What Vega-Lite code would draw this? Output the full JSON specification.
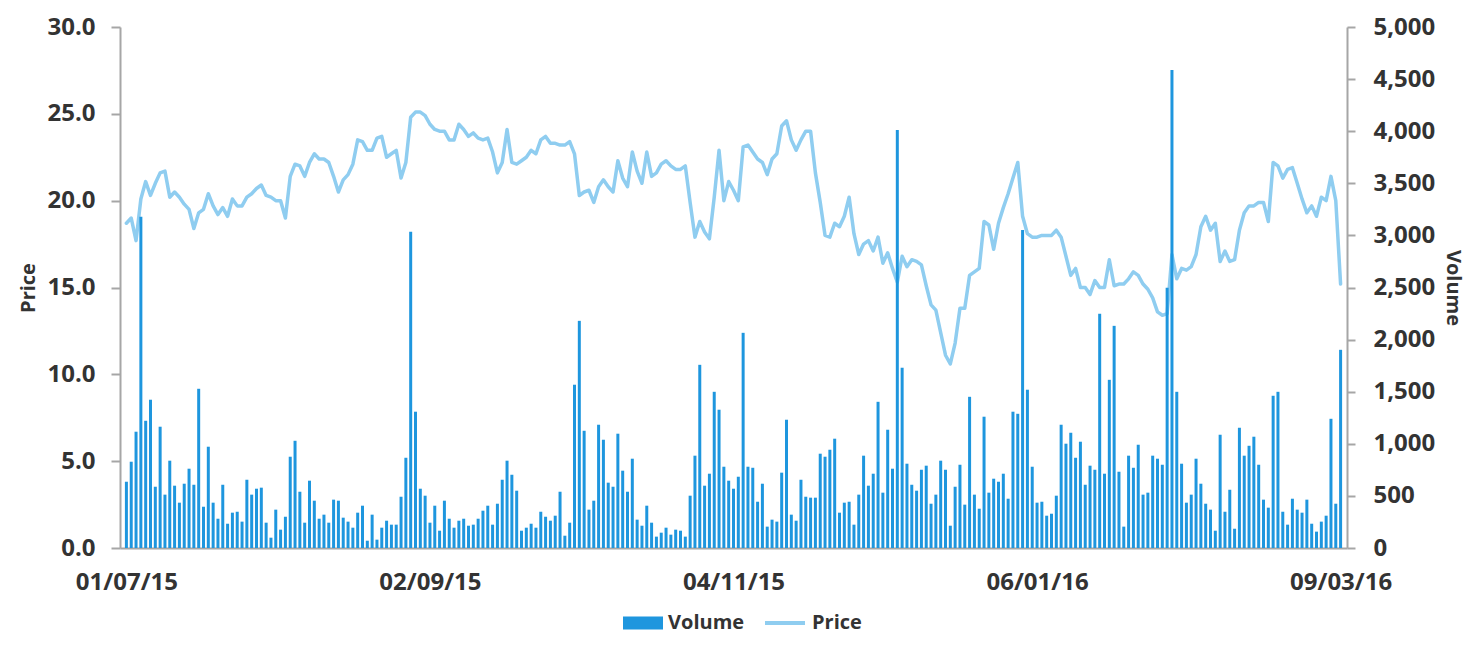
{
 "$schema": "https://vega.github.io/schema/vega-lite/v6.json",
 "width": 1227, "height": 521,
 "autosize": {"type": "none"},
 "padding": {"left": 120, "top": 27, "right": 130, "bottom": 107},
 "background": "white",
 "config": {
  "view": {"stroke": null},
  "font": "Open Sans",
  "axis": {"grid": false, "labelFont": "Open Sans", "labelFontWeight": "bold", "labelColor": "#333333", "labelFontSize": 24, "domainColor": "#a6a6a6", "domainWidth": 2, "tickColor": "#a6a6a6", "tickWidth": 2, "titleFont": "Open Sans", "titleFontWeight": "bold", "titleColor": "#333333", "titleFontSize": 20},
  "legend": {"labelFontSize": 20, "labelFontWeight": "bold", "labelColor": "#333333", "labelFont": "Open Sans", "labelOffset": 5}
 },
 "data": {"values": [
{"d":"2015/07/01","p":18.7,"v":636},{"d":"2015/07/02","p":19.0,"v":828},{"d":"2015/07/03","p":17.7,"v":1116},{"d":"2015/07/04","p":20.1,"v":3178},{"d":"2015/07/05","p":21.1,"v":1221},{"d":"2015/07/06","p":20.3,"v":1423},{"d":"2015/07/07","p":21.0,"v":588},{"d":"2015/07/08","p":21.6,"v":1164},{"d":"2015/07/09","p":21.7,"v":512},{"d":"2015/07/10","p":20.2,"v":838},
{"d":"2015/07/11","p":20.5,"v":598},{"d":"2015/07/12","p":20.2,"v":435},{"d":"2015/07/13","p":19.8,"v":617},{"d":"2015/07/14","p":19.5,"v":761},{"d":"2015/07/15","p":18.4,"v":607},{"d":"2015/07/16","p":19.3,"v":1528},{"d":"2015/07/17","p":19.5,"v":396},{"d":"2015/07/18","p":20.4,"v":972},{"d":"2015/07/19","p":19.7,"v":435},{"d":"2015/07/20","p":19.2,"v":281},
{"d":"2015/07/21","p":19.6,"v":607},{"d":"2015/07/22","p":19.1,"v":233},{"d":"2015/07/23","p":20.1,"v":339},{"d":"2015/07/24","p":19.7,"v":348},{"d":"2015/07/25","p":19.7,"v":253},{"d":"2015/07/26","p":20.2,"v":655},{"d":"2015/07/27","p":20.4,"v":512},{"d":"2015/07/28","p":20.7,"v":569},{"d":"2015/07/29","p":20.9,"v":579},{"d":"2015/07/30","p":20.3,"v":243},
{"d":"2015/07/31","p":20.2,"v":99},
{"d":"2015/08/01","p":20.0,"v":368},{"d":"2015/08/02","p":20.0,"v":176},{"d":"2015/08/03","p":19.0,"v":300},{"d":"2015/08/04","p":21.4,"v":876},{"d":"2015/08/05","p":22.1,"v":1029},{"d":"2015/08/06","p":22.0,"v":540},{"d":"2015/08/07","p":21.4,"v":243},{"d":"2015/08/08","p":22.2,"v":646},{"d":"2015/08/09","p":22.7,"v":454},{"d":"2015/08/10","p":22.4,"v":281},
{"d":"2015/08/11","p":22.4,"v":320},{"d":"2015/08/12","p":22.2,"v":243},{"d":"2015/08/13","p":21.4,"v":464},{"d":"2015/08/14","p":20.5,"v":454},{"d":"2015/08/15","p":21.2,"v":291},{"d":"2015/08/16","p":21.5,"v":253},{"d":"2015/08/17","p":22.1,"v":195},{"d":"2015/08/18","p":23.5,"v":339},{"d":"2015/08/19","p":23.4,"v":406},{"d":"2015/08/20","p":22.9,"v":70},
{"d":"2015/08/21","p":22.9,"v":320},{"d":"2015/08/22","p":23.6,"v":80},{"d":"2015/08/23","p":23.7,"v":195},{"d":"2015/08/24","p":22.5,"v":262},{"d":"2015/08/25","p":22.7,"v":224},{"d":"2015/08/26","p":22.9,"v":224},{"d":"2015/08/27","p":21.3,"v":492},{"d":"2015/08/28","p":22.2,"v":866},{"d":"2015/08/29","p":24.8,"v":3034},{"d":"2015/08/30","p":25.1,"v":1308},
{"d":"2015/08/31","p":25.1,"v":569},
{"d":"2015/09/01","p":24.9,"v":502},{"d":"2015/09/02","p":24.4,"v":243},{"d":"2015/09/03","p":24.1,"v":406},{"d":"2015/09/04","p":24.0,"v":166},{"d":"2015/09/05","p":24.0,"v":454},{"d":"2015/09/06","p":23.5,"v":281},{"d":"2015/09/07","p":23.5,"v":195},{"d":"2015/09/08","p":24.4,"v":262},{"d":"2015/09/09","p":24.1,"v":281},{"d":"2015/09/10","p":23.7,"v":214},
{"d":"2015/09/11","p":23.9,"v":224},{"d":"2015/09/12","p":23.6,"v":281},{"d":"2015/09/13","p":23.5,"v":358},{"d":"2015/09/14","p":23.6,"v":406},{"d":"2015/09/15","p":22.8,"v":224},{"d":"2015/09/16","p":21.6,"v":425},{"d":"2015/09/17","p":22.2,"v":655},{"d":"2015/09/18","p":24.1,"v":838},{"d":"2015/09/19","p":22.2,"v":703},{"d":"2015/09/20","p":22.1,"v":550},
{"d":"2015/09/21","p":22.3,"v":166},{"d":"2015/09/22","p":22.5,"v":195},{"d":"2015/09/23","p":22.9,"v":233},{"d":"2015/09/24","p":22.7,"v":195},{"d":"2015/09/25","p":23.5,"v":348},{"d":"2015/09/26","p":23.7,"v":300},{"d":"2015/09/27","p":23.3,"v":262},{"d":"2015/09/28","p":23.3,"v":310},{"d":"2015/09/29","p":23.2,"v":540},{"d":"2015/09/30","p":23.2,"v":118},
{"d":"2015/10/01","p":23.4,"v":243},{"d":"2015/10/02","p":22.7,"v":1567},{"d":"2015/10/03","p":20.3,"v":2180},{"d":"2015/10/04","p":20.5,"v":1125},{"d":"2015/10/05","p":20.6,"v":368},{"d":"2015/10/06","p":19.9,"v":454},{"d":"2015/10/07","p":20.8,"v":1183},{"d":"2015/10/08","p":21.2,"v":1039},{"d":"2015/10/09","p":20.8,"v":627},{"d":"2015/10/10","p":20.5,"v":588},
{"d":"2015/10/11","p":22.3,"v":1097},{"d":"2015/10/12","p":21.3,"v":742},{"d":"2015/10/13","p":20.8,"v":540},{"d":"2015/10/14","p":22.8,"v":857},{"d":"2015/10/15","p":21.7,"v":272},{"d":"2015/10/16","p":21.0,"v":214},{"d":"2015/10/17","p":22.8,"v":406},{"d":"2015/10/18","p":21.4,"v":243},{"d":"2015/10/19","p":21.6,"v":109},{"d":"2015/10/20","p":22.1,"v":147},
{"d":"2015/10/21","p":22.3,"v":195},{"d":"2015/10/22","p":22.0,"v":128},{"d":"2015/10/23","p":21.8,"v":176},{"d":"2015/10/24","p":21.8,"v":166},{"d":"2015/10/25","p":22.0,"v":109},{"d":"2015/10/26","p":19.9,"v":502},{"d":"2015/10/27","p":17.9,"v":886},{"d":"2015/10/28","p":18.8,"v":1758},{"d":"2015/10/29","p":18.2,"v":598},{"d":"2015/10/30","p":17.8,"v":713},
{"d":"2015/10/31","p":20.2,"v":1499},
{"d":"2015/11/01","p":22.9,"v":1327},{"d":"2015/11/02","p":20.0,"v":780},{"d":"2015/11/03","p":21.1,"v":646},{"d":"2015/11/04","p":20.6,"v":569},{"d":"2015/11/05","p":20.0,"v":684},{"d":"2015/11/06","p":23.1,"v":2065},{"d":"2015/11/07","p":23.2,"v":780},{"d":"2015/11/08","p":22.8,"v":770},{"d":"2015/11/09","p":22.4,"v":444},{"d":"2015/11/10","p":22.2,"v":617},
{"d":"2015/11/11","p":21.5,"v":205},{"d":"2015/11/12","p":22.4,"v":272},{"d":"2015/11/13","p":22.7,"v":253},{"d":"2015/11/14","p":24.3,"v":723},{"d":"2015/11/15","p":24.6,"v":1231},{"d":"2015/11/16","p":23.5,"v":320},{"d":"2015/11/17","p":22.9,"v":262},{"d":"2015/11/18","p":23.5,"v":655},{"d":"2015/11/19","p":24.0,"v":492},{"d":"2015/11/20","p":24.0,"v":483},
{"d":"2015/11/21","p":21.6,"v":483},{"d":"2015/11/22","p":19.9,"v":905},{"d":"2015/11/23","p":18.0,"v":876},{"d":"2015/11/24","p":17.9,"v":943},{"d":"2015/11/25","p":18.7,"v":1049},{"d":"2015/11/26","p":18.5,"v":339},{"d":"2015/11/27","p":19.1,"v":435},{"d":"2015/11/28","p":20.2,"v":444},{"d":"2015/11/29","p":18.1,"v":224},{"d":"2015/11/30","p":16.9,"v":512},
{"d":"2015/12/01","p":17.5,"v":886},{"d":"2015/12/02","p":17.7,"v":598},{"d":"2015/12/03","p":17.1,"v":713},{"d":"2015/12/04","p":17.9,"v":1403},{"d":"2015/12/05","p":16.4,"v":531},{"d":"2015/12/06","p":17.0,"v":1135},{"d":"2015/12/07","p":16.1,"v":761},{"d":"2015/12/08","p":15.3,"v":4012},{"d":"2015/12/09","p":16.8,"v":1730},{"d":"2015/12/10","p":16.2,"v":809},
{"d":"2015/12/11","p":16.6,"v":607},{"d":"2015/12/12","p":16.5,"v":550},{"d":"2015/12/13","p":16.3,"v":751},{"d":"2015/12/14","p":15.1,"v":790},{"d":"2015/12/15","p":14.0,"v":425},{"d":"2015/12/16","p":13.7,"v":512},{"d":"2015/12/17","p":12.4,"v":838},{"d":"2015/12/18","p":11.1,"v":751},{"d":"2015/12/19","p":10.6,"v":214},{"d":"2015/12/20","p":11.8,"v":588},
{"d":"2015/12/21","p":13.8,"v":799},{"d":"2015/12/22","p":13.8,"v":416},{"d":"2015/12/23","p":15.7,"v":1451},{"d":"2015/12/24","p":15.9,"v":512},{"d":"2015/12/25","p":16.1,"v":377},{"d":"2015/12/26","p":18.8,"v":1260},{"d":"2015/12/27","p":18.6,"v":531},{"d":"2015/12/28","p":17.2,"v":665},{"d":"2015/12/29","p":18.7,"v":636},{"d":"2015/12/30","p":19.6,"v":713},
{"d":"2015/12/31","p":20.4,"v":473},
{"d":"2016/01/01","p":21.3,"v":1308},{"d":"2016/01/02","p":22.2,"v":1288},{"d":"2016/01/03","p":19.1,"v":3053},{"d":"2016/01/04","p":18.1,"v":1519},{"d":"2016/01/05","p":17.9,"v":780},{"d":"2016/01/06","p":17.9,"v":435},{"d":"2016/01/07","p":18.0,"v":444},{"d":"2016/01/08","p":18.0,"v":310},{"d":"2016/01/09","p":18.0,"v":329},{"d":"2016/01/10","p":18.3,"v":502},
{"d":"2016/01/11","p":17.9,"v":1183},{"d":"2016/01/12","p":16.8,"v":1001},{"d":"2016/01/13","p":15.7,"v":1106},{"d":"2016/01/14","p":16.1,"v":866},{"d":"2016/01/15","p":15.0,"v":1020},{"d":"2016/01/16","p":15.0,"v":607},{"d":"2016/01/17","p":14.6,"v":790},{"d":"2016/01/18","p":15.4,"v":751},{"d":"2016/01/19","p":15.0,"v":2248},{"d":"2016/01/20","p":15.0,"v":713},
{"d":"2016/01/21","p":16.6,"v":1614},{"d":"2016/01/22","p":15.1,"v":2132},{"d":"2016/01/23","p":15.2,"v":732},{"d":"2016/01/24","p":15.2,"v":205},{"d":"2016/01/25","p":15.5,"v":886},{"d":"2016/01/26","p":15.9,"v":770},{"d":"2016/01/27","p":15.7,"v":991},{"d":"2016/01/28","p":15.2,"v":512},{"d":"2016/01/29","p":14.9,"v":531},{"d":"2016/01/30","p":14.4,"v":886},
{"d":"2016/01/31","p":13.6,"v":857},
{"d":"2016/02/01","p":13.4,"v":799},{"d":"2016/02/02","p":13.5,"v":2497},{"d":"2016/02/03","p":16.9,"v":4588},{"d":"2016/02/04","p":15.5,"v":1499},{"d":"2016/02/05","p":16.1,"v":809},{"d":"2016/02/06","p":16.0,"v":435},{"d":"2016/02/07","p":16.2,"v":512},{"d":"2016/02/08","p":16.9,"v":857},{"d":"2016/02/09","p":18.5,"v":617},{"d":"2016/02/10","p":19.1,"v":425},
{"d":"2016/02/11","p":18.3,"v":368},{"d":"2016/02/12","p":18.7,"v":166},{"d":"2016/02/13","p":16.5,"v":1087},{"d":"2016/02/14","p":17.1,"v":348},{"d":"2016/02/15","p":16.5,"v":559},{"d":"2016/02/16","p":16.6,"v":185},{"d":"2016/02/17","p":18.3,"v":1154},{"d":"2016/02/18","p":19.3,"v":886},{"d":"2016/02/19","p":19.7,"v":981},{"d":"2016/02/20","p":19.7,"v":1068},
{"d":"2016/02/21","p":19.9,"v":799},{"d":"2016/02/22","p":19.9,"v":464},{"d":"2016/02/23","p":18.8,"v":387},{"d":"2016/02/24","p":22.2,"v":1461},{"d":"2016/02/25","p":22.0,"v":1499},{"d":"2016/02/26","p":21.3,"v":348},{"d":"2016/02/27","p":21.8,"v":224},{"d":"2016/02/28","p":21.9,"v":473},{"d":"2016/02/29","p":21.0,"v":368},
{"d":"2016/03/01","p":20.1,"v":339},{"d":"2016/03/02","p":19.3,"v":464},{"d":"2016/03/03","p":19.7,"v":233},{"d":"2016/03/04","p":19.1,"v":157},{"d":"2016/03/05","p":20.2,"v":253},{"d":"2016/03/06","p":20.0,"v":310},{"d":"2016/03/07","p":21.4,"v":1240},{"d":"2016/03/08","p":20.0,"v":425},{"d":"2016/03/09","p":15.2,"v":1902}
 ]},
 "encoding": {
  "x": {"field": "d", "type": "temporal",
   "scale": {"domain": [{"year": 2015, "month": "jun", "date": 30, "hours": 17}, {"year": 2016, "month": "mar", "date": 9, "hours": 7}]},
   "axis": {"title": null, "orient": "bottom", "values": [{"year": 2015, "month": "jul", "date": 1}, {"year": 2015, "month": "sep", "date": 2}, {"year": 2015, "month": "nov", "date": 4}, {"year": 2016, "month": "jan", "date": 6}, {"year": 2016, "month": "mar", "date": 9}], "format": "%d/%m/%y", "ticks": false, "labelPadding": 22, "labelFlush": false, "labelOverlap": false}}
 },
 "layer": [
  {"mark": {"type": "line", "strokeWidth": 3.5, "strokeJoin": "round", "strokeCap": "round"},
   "encoding": {
    "y": {"field": "p", "type": "quantitative", "scale": {"domain": [0, 30], "nice": false},
     "axis": {"orient": "left", "title": "Price", "values": [0, 5, 10, 15, 20, 25, 30], "format": ".1f", "tickSize": 9, "labelPadding": 16, "titlePadding": 8}},
    "stroke": {"datum": "Price", "type": "nominal", "scale": {"domain": ["Price"], "range": ["#8fcdf0"]},
     "legend": {"title": null, "orient": "none", "legendX": 643, "legendY": 574, "symbolType": "stroke", "symbolSize": 1600, "symbolStrokeWidth": 4}}
   }},
  {"mark": {"type": "bar", "size": 3},
   "encoding": {
    "y": {"field": "v", "type": "quantitative", "scale": {"domain": [0, 5000], "nice": false},
     "axis": {"orient": "right", "title": "Volume", "values": [0, 500, 1000, 1500, 2000, 2500, 3000, 3500, 4000, 4500, 5000], "format": ",.0f", "tickSize": 8, "labelPadding": 18, "titlePadding": 8}},
    "fill": {"datum": "Volume", "type": "nominal", "scale": {"domain": ["Volume"], "range": ["#1e96de"]},
     "legend": {"title": null, "orient": "none", "legendX": 503, "legendY": 576, "symbolType": "M-1,-0.33H1V0.33H-1Z", "symbolSize": 1600, "symbolStrokeWidth": 0}}
   }}
 ],
 "resolve": {"scale": {"y": "independent"}}
}
